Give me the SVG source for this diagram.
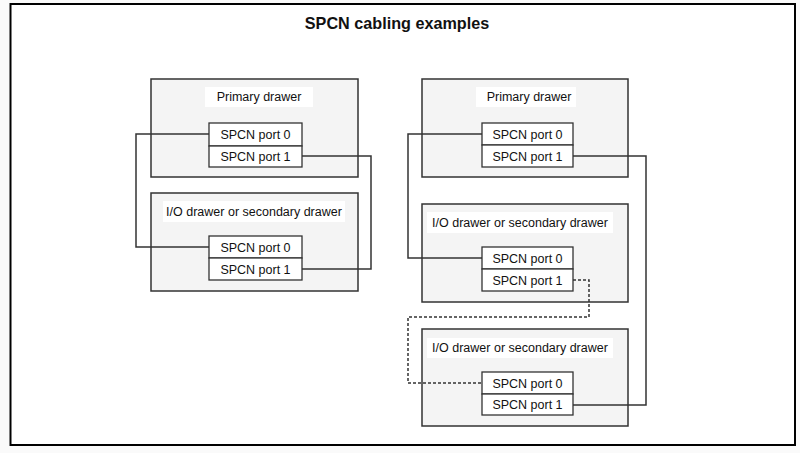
<svg xmlns="http://www.w3.org/2000/svg" width="800" height="453" viewBox="0 0 800 453">
<style>
text{font-family:"Liberation Sans",Arial,sans-serif;fill:#111;text-anchor:middle}
.t{font-size:16.2px;font-weight:bold}
.l{font-size:12.5px}
.drawer{fill:#f4f4f4;stroke:#333;stroke-width:1.5}
.lab{fill:#fff;stroke:none}
.port{fill:#fff;stroke:#333;stroke-width:1.3}
.c{fill:none;stroke:#333;stroke-width:1.5}
.d{stroke-dasharray:3,2}
</style>
<rect x="0" y="0" width="800" height="453" fill="#fafafa"/>
<rect x="10.5" y="4" width="784.5" height="441" fill="#fff" stroke="#000" stroke-width="2"/>
<text class="t" x="397" y="29">SPCN cabling examples</text>

<g id="left-primary">
<rect class="drawer" x="151" y="79" width="207" height="98"/>
<rect class="lab" x="205" y="87" width="108" height="20"/>
<text class="l" x="259" y="101">Primary drawer</text>
<rect class="port" x="209" y="123" width="93" height="23"/>
<rect class="port" x="209" y="146" width="93" height="21"/>
<text class="l" x="255.5" y="139">SPCN port 0</text>
<text class="l" x="255.5" y="161">SPCN port 1</text>
</g>
<g id="left-secondary">
<rect class="drawer" x="151" y="193" width="207" height="98"/>
<rect class="lab" x="163" y="201" width="182" height="21"/>
<text class="l" x="254" y="216">I/O drawer or secondary drawer</text>
<rect class="port" x="209" y="236" width="93" height="22"/>
<rect class="port" x="209" y="258" width="93" height="22"/>
<text class="l" x="255.5" y="252">SPCN port 0</text>
<text class="l" x="255.5" y="274">SPCN port 1</text>
</g>

<g id="right-primary">
<rect class="drawer" x="422" y="79" width="206" height="98"/>
<rect class="lab" x="476" y="87" width="100" height="20"/>
<text class="l" x="529" y="101">Primary drawer</text>
<rect class="port" x="482" y="123" width="91" height="22"/>
<rect class="port" x="482" y="145" width="91" height="22"/>
<text class="l" x="527.5" y="139">SPCN port 0</text>
<text class="l" x="527.5" y="161">SPCN port 1</text>
</g>
<g id="right-secondary-1">
<rect class="drawer" x="422" y="204" width="206" height="98"/>
<rect class="lab" x="427" y="212" width="186" height="21"/>
<text class="l" x="520" y="227">I/O drawer or secondary drawer</text>
<rect class="port" x="482" y="247" width="91" height="22"/>
<rect class="port" x="482" y="269" width="91" height="22"/>
<text class="l" x="527.5" y="263">SPCN port 0</text>
<text class="l" x="527.5" y="285">SPCN port 1</text>
</g>
<g id="right-secondary-2">
<rect class="drawer" x="422" y="329" width="206" height="97"/>
<rect class="lab" x="427" y="338" width="186" height="20"/>
<text class="l" x="520" y="352">I/O drawer or secondary drawer</text>
<rect class="port" x="482" y="372" width="91" height="22"/>
<rect class="port" x="482" y="394" width="91" height="21"/>
<text class="l" x="527.5" y="388">SPCN port 0</text>
<text class="l" x="527.5" y="409">SPCN port 1</text>
</g>

<g id="connectors">
<polyline class="c" points="209,134 136,134 136,247 209,247"/>
<polyline class="c" points="302,156 371,156 371,269 302,269"/>
<polyline class="c" points="482,134 408,134 408,258 482,258"/>
<polyline class="c" points="573,156 646,156 646,405 573,405"/>
<polyline class="c d" points="573,280 589,280 589,317 408,317 408,383 482,383"/>
</g>
</svg>
